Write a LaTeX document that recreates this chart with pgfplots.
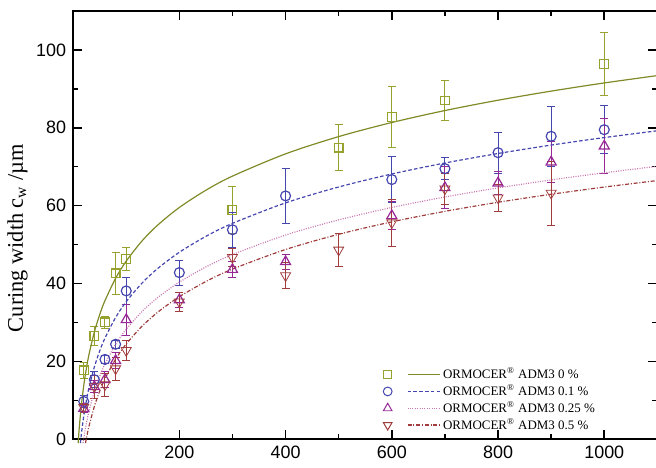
\documentclass[border=0pt]{standalone}
\usepackage{fontspec}
\setmainfont{Liberation Serif}
\newfontfamily\ticksans{Liberation Sans}
\usepackage{pgfplots}
\pgfplotsset{compat=1.18}

\definecolor{ogreen}{RGB}{150,162,45}
\definecolor{oblue}{RGB}{70,70,175}
\definecolor{opurple}{RGB}{150,40,150}
\definecolor{opink}{RGB}{200,120,175}
\definecolor{ored}{RGB}{160,60,60}

\pgfplotsset{
  pts/.style={only marks, mark options={solid, line width=0.6pt, fill=none},
    error bars/y dir=both, error bars/y explicit,
    error bars/error bar style={line width=0.5pt},
    error bars/error mark options={rotate=90, mark size=2pt, line width=0.5pt}},
  legmark/.style={legend image code/.code={%
    \draw[solid, line width=0.5pt, #1] plot coordinates {(0pt,0pt)};
    \draw[##1] (10pt,0pt) -- (26.5pt,0pt);}},
}

\begin{document}
\begin{tikzpicture}
\useasboundingbox (-36.7pt,-14pt) rectangle (292.6pt,220.5pt);
\clip (-36.7pt,-14pt) rectangle (292.6pt,220.5pt);
\begin{axis}[
    scale only axis,
    width=293.3pt, height=215pt,
    xmin=0, xmax=1100,
    ymin=0, ymax=110,
    clip=false,
    xtick={200,400,...,1000},
    ytick={0,20,...,100},
    minor x tick num=1,
    minor y tick num=1,
    tick align=inside,
    major tick length=4.5pt,
    minor tick length=2.5pt,
    axis line style={line width=1pt},
    every tick/.style={black, line width=0.8pt},
    ticklabel style={font=\ticksans\fontsize{9}{10}\selectfont},
    /pgf/number format/assume math mode=true,
    /pgf/number format/1000 sep={},
    ylabel={Curing width c\textsubscript{w} /µm},
    ylabel style={at={(axis description cs:-0.095,0.47)}, anchor=center,
      font=\fontsize{11.2}{12}\selectfont},
    legend style={at={(axis cs:572,0.2)}, anchor=south west, draw=none, fill=none,
      font=\fontsize{6.5}{7}\selectfont, row sep=-0.6pt,
      nodes={inner sep=1pt}},
    legend cell align=left,
]
% measured points
\addplot[pts, ogreen, mark=square, mark size=2.2pt, forget plot] coordinates {
  (20,17.7) +- (0,2.0)
  (40,26.5) +- (0,2.4)
  (60,30.0) +- (0,1.5)
  (80,42.6) +- (0,5.3)
  (100,46.3) +- (0,3.0)
  (300,58.9) +- (0,6.0)
  (500,74.9) +- (0,6.0)
  (600,82.7) +- (0,7.8)
  (700,87.0) +- (0,5.2)
  (1000,96.4) +- (0,8.0)
};
\addplot[pts, oblue, mark=o, mark size=2.5pt, forget plot] coordinates {
  (20,9.7) +- (0,1.5)
  (40,15.3) +- (0,2.0)
  (60,20.5) +- (0,1.0)
  (80,24.4) +- (0,1.0)
  (100,38.1) +- (0,3.5)
  (200,42.8) +- (0,3.2)
  (300,53.8) +- (0,4.5)
  (400,62.5) +- (0,7.0)
  (600,66.7) +- (0,5.9)
  (700,69.5) +- (0,2.8)
  (800,73.6) +- (0,5.3)
  (900,77.8) +- (0,7.7)
  (1000,79.5) +- (0,6.2)
};
\addplot[pts, opurple, mark=triangle, mark size=2.9pt, forget plot] coordinates {
  (20,7.9) +- (0,1.0)
  (40,13.5) +- (0,1.5)
  (60,15.3) +- (0,2.0)
  (80,20.2) +- (0,2.0)
  (100,30.7) +- (0,4.0)
  (200,35.8) +- (0,2.0)
  (300,43.6) +- (0,2.0)
  (400,45.6) +- (0,1.9)
  (600,57.4) +- (0,3.6)
  (700,64.6) +- (0,5.4)
  (800,65.8) +- (0,3.0)
  (900,71.2) +- (0,5.3)
  (1000,75.3) +- (0,7.0)
};
\addplot[pts, ored, mark=triangle, mark size=2.9pt, mark options={rotate=180}, forget plot] coordinates {
  (20,8.2) +- (0,1.0)
  (40,13.5) +- (0,3.0)
  (60,14.0) +- (0,3.0)
  (80,18.1) +- (0,3.0)
  (100,22.8) +- (0,2.5)
  (200,35.3) +- (0,2.5)
  (300,46.7) +- (0,2.3)
  (400,42.0) +- (0,3.4)
  (500,48.6) +- (0,4.3)
  (600,55.6) +- (0,6.0)
  (700,64.3) +- (0,4.0)
  (800,62.0) +- (0,3.4)
  (900,63.2) +- (0,8.2)
};
% fitted curves
\addplot[ogreen!85!black, line width=0.6pt, smooth,
  legmark={ogreen, mark=square, mark size=2pt}] coordinates {
  (9.51,-1) (10,0) (11,1.89) (12,3.62) (15,8.06) (20,13.77) (25,18.21) (30,21.83)
  (40,27.55) (50,31.98) (60,35.60) (80,41.32) (100,45.75) (130,50.97)
  (160,55.09) (200,59.53) (250,63.96) (300,67.58) (400,73.30) (500,77.73)
  (600,81.35) (700,84.42) (800,87.07) (900,89.41) (1000,91.51) (1100,93.40)
};
\addlegendentry{ORMOCER\textsuperscript{\textregistered} ADM3 0 \%}
\addplot[oblue, line width=0.6pt, smooth, dash pattern=on 1.8pt off 1.1pt,
  legmark={oblue, mark=o, mark size=2.2pt}] coordinates {
  (13.73,-1) (14.5,0) (15,0.62) (17,2.91) (20,5.89) (25,9.97) (30,13.31)
  (40,18.57) (50,22.65) (60,25.99) (80,31.25) (100,35.34) (130,40.14)
  (160,43.94) (200,48.02) (250,52.11) (300,55.44) (400,60.71) (500,64.79)
  (600,68.13) (700,70.95) (800,73.39) (900,75.55) (1000,77.48) (1100,79.22)
};
\addlegendentry{ORMOCER\textsuperscript{\textregistered} ADM3 0.1 \%}
\addplot[opink, line width=0.6pt, smooth, dash pattern=on 0.5pt off 0.7pt,
  legmark={opurple, mark=triangle, mark size=2.5pt}] coordinates {
  (18.7,-1) (19.8,0) (22,1.84) (25,4.07) (30,7.25) (40,12.27) (50,16.16)
  (60,19.35) (80,24.37) (100,28.26) (130,32.84) (160,36.46) (200,40.35)
  (250,44.25) (300,47.43) (400,52.45) (500,56.34) (600,59.53) (700,62.22)
  (800,64.55) (900,66.60) (1000,68.44) (1100,70.10)
};
\addlegendentry{ORMOCER\textsuperscript{\textregistered} ADM3 0.25 \%}
\addplot[ored, line width=0.6pt, smooth, dash pattern=on 2pt off 0.9pt on 0.5pt off 0.9pt,
  legmark={ored, mark=triangle, mark size=2.5pt, mark options={solid, rotate=180}}] coordinates {
  (23.33,-1) (24.7,0) (27,1.56) (30,3.40) (40,8.44) (50,12.34) (60,15.53)
  (80,20.57) (100,24.47) (130,29.06) (160,32.70) (200,36.60) (250,40.51)
  (300,43.70) (400,48.73) (500,52.64) (600,55.83) (700,58.53) (800,60.86)
  (900,62.92) (1000,64.77) (1100,66.44)
};
\addlegendentry{ORMOCER\textsuperscript{\textregistered} ADM3 0.5 \%}
\end{axis}
\end{tikzpicture}
\end{document}
